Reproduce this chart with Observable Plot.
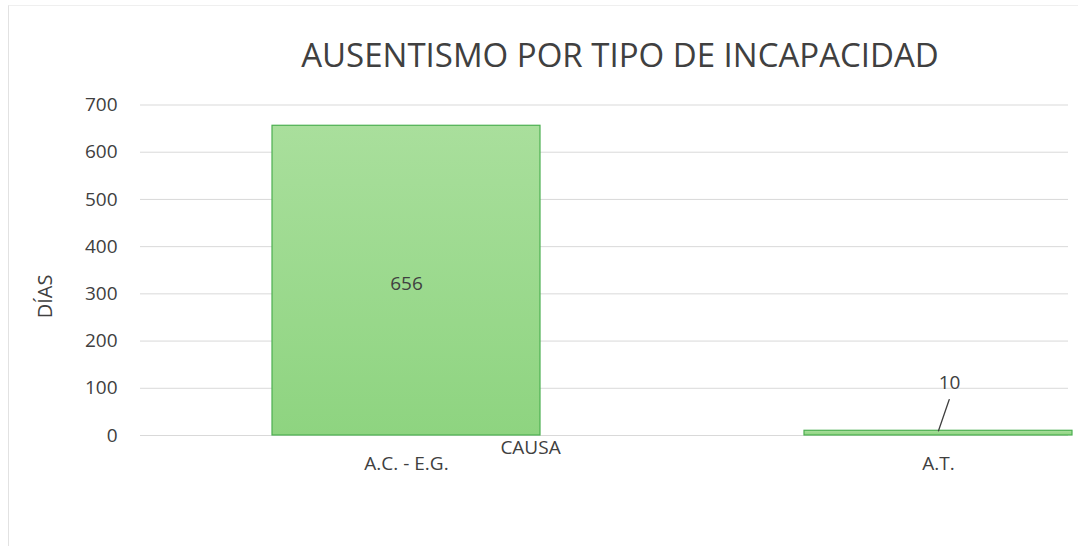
<!DOCTYPE html>
<html>
<head>
<meta charset="utf-8">
<script src="https://cdn.jsdelivr.net/npm/d3@7"></script>
<script src="https://cdn.jsdelivr.net/npm/@observablehq/plot@0.6"></script>
<style>
  html, body { margin: 0; padding: 0; background: #fff; }
  body { width: 1078px; height: 546px; overflow: hidden; position: relative; font-family: "Open Sans", sans-serif; }
  #title { position: absolute; left: 620px; top: 32px; transform: translateX(-50%); white-space: nowrap;
           font-size: 33px; line-height: normal; color: #404040; }
  #chart { position: absolute; left: 0; top: 80px; }
  #frame { position: absolute; left: 8px; top: 5px; width: 1070px; height: 541px;
           border-left: 1px solid #e2e2e2; border-top: 1px solid #efefef; }
</style>
</head>
<body>
<div id="frame"></div>
<div id="title"></div>
<div id="chart"></div>
<script>
const chartTitle = "AUSENTISMO POR TIPO DE INCAPACIDAD";
const xTitle = "CAUSA";
const yTitle = "DÍAS";
const categories = ["A.C. - E.G.", "A.T."];
const dias = [656, 10];
const yTicks = [0, 100, 200, 300, 400, 500, 600, 700];

const data = categories.map((c, i) => ({causa: c, dias: dias[i]}));

document.getElementById("title").textContent = chartTitle;

const defs = () => {
  const ns = "http://www.w3.org/2000/svg";
  const d = document.createElementNS(ns, "defs");
  const g = document.createElementNS(ns, "linearGradient");
  g.setAttribute("id", "barGrad");
  g.setAttribute("x1", "0"); g.setAttribute("y1", "0");
  g.setAttribute("x2", "0"); g.setAttribute("y2", "1");
  [["0", "#a9df9c"], ["1", "#8ed480"]].forEach(([o, c]) => {
    const s = document.createElementNS(ns, "stop");
    s.setAttribute("offset", o); s.setAttribute("stop-color", c);
    g.appendChild(s);
  });
  d.appendChild(g);
  return d;
};

const leader = {
  draw(context, l) { context.moveTo(0, 0); context.lineTo(0, -l); }
};

const inside = data.filter(d => d.dias > 100);
const outside = data.filter(d => d.dias <= 100);

const plot = Plot.plot({
  width: 1078,
  height: 466,
  marginLeft: 140,
  marginRight: 10,
  marginTop: 24.5,
  marginBottom: 111,
  x: {domain: categories, range: [140, 1204], paddingInner: 0.496, paddingOuter: 0.248, align: 0.5},
  y: {domain: [0, 700]},
  style: {fontFamily: "Open Sans", fontSize: "19px", color: "#404040", background: "transparent"},
  marks: [
    defs,
    Plot.gridY(yTicks, {stroke: "#d9d9d9", strokeOpacity: 1}),
    Plot.barY(data, {x: "causa", y: "dias", fill: "url(#barGrad)", stroke: "#4caf50", strokeWidth: 1.2}),
    Plot.axisY(yTicks, {tickSize: 0, tickPadding: 23, label: null, fontSize: 19, fill: "#404040"}),
    Plot.axisX({tickSize: 0, tickPadding: 21, label: null, fontSize: 19, fill: "#404040"}),
    Plot.text(inside, {x: "causa", y: d => d.dias / 2, text: d => String(d.dias), fontSize: 19, fill: "#404040", dy: 3}),
    Plot.vector(outside, {x: "causa", y: "dias", length: 33, rotate: 19, anchor: "start", shape: leader, stroke: "#404040", strokeWidth: 1.3}),
    Plot.text(outside, {x: "causa", y: "dias", text: d => String(d.dias), fontSize: 19, fill: "#404040", dx: 11, dy: -48}),
    Plot.text([xTitle], {frameAnchor: "bottom-left", dx: 390, dy: 18, fontSize: 19, fill: "#404040", textAnchor: "middle"}),
    Plot.text([yTitle], {frameAnchor: "left", dx: -95, dy: 48, rotate: -90, fontSize: 20, fill: "#404040"})
  ]
});
document.getElementById("chart").appendChild(plot);
</script>
</body>
</html>
